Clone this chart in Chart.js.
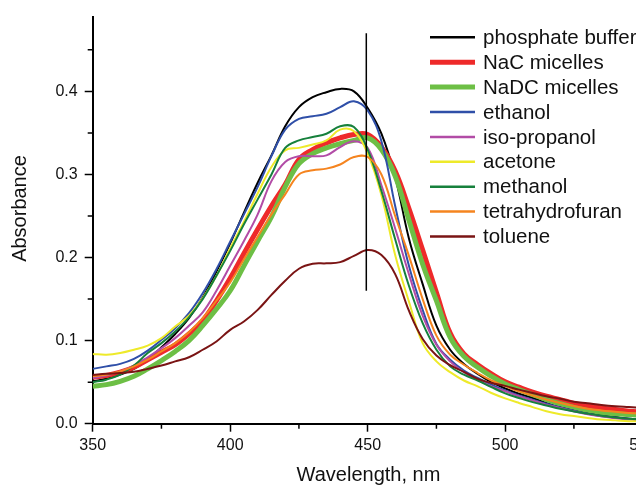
<!DOCTYPE html>
<html><head><meta charset="utf-8">
<script src="https://cdn.jsdelivr.net/npm/chart.js@4.4.1/dist/chart.umd.min.js"></script>
<style>
html,body{margin:0;padding:0;overflow:hidden;background:#fff;width:636px;height:486px}
canvas{display:block}
</style></head>
<body>
<canvas id="c" width="660" height="486" style="width:660px;height:486px"></canvas>
<script>
const wavelengths = [350,355,360,365,370,375,380,385,390,395,400,405,410,415,420,425,430,435,440,445,450,455,460,465,470,475,480,485,490,495,500,505,510,515,520,525,530,535,540,545,550];

const phosphateBuffer = [.051,.054,.059,.066,.077,.092,.108,.127,.152,.183,.217,.254,.290,.323,.358,.381,.393,.399,.403,.400,.380,.349,.297,.223,.168,.118,.089,.072,.060,.050,.0425,.036,.031,.025,.020,.0173,.0135,.010,.008,.006,.005];
const nacMicelles = [.056,.058,.062,.068,.077,.086,.095,.108,.124,.148,.175,.205,.234,.262,.288,.318,.330,.338,.344,.348,.348,.333,.304,.259,.209,.158,.109,.084,.071,.060,.0504,.044,.038,.033,.029,.0245,.0215,.019,.017,.015,.014];
const nadcMicelles = [.045,.047,.051,.057,.066,.076,.087,.100,.118,.138,.160,.190,.220,.249,.285,.313,.325,.332,.337,.341,.344,.330,.298,.245,.192,.148,.104,.081,.068,.057,.0477,.041,.035,.029,.024,.0197,.016,.0135,.012,.011,.010];
const ethanol = [.066,.069,.072,.078,.088,.101,.115,.133,.157,.186,.219,.252,.285,.322,.354,.367,.370,.373,.381,.388,.377,.340,.262,.190,.137,.096,.077,.064,.055,.047,.040,.034,.029,.024,.0195,.0156,.012,.009,.0075,.006,.005];
const isoPropanol = [.055,.058,.063,.070,.080,.091,.103,.118,.134,.160,.190,.220,.252,.292,.315,.322,.322,.323,.333,.340,.332,.287,.235,.180,.130,.095,.075,.062,.053,.045,.039,.033,.028,.023,.019,.015,.0115,.009,.0065,.005,.004];
const acetone = [.084,.083,.085,.089,.094,.103,.117,.130,.151,.178,.211,.243,.277,.309,.329,.332,.336,.341,.354,.352,.325,.275,.203,.147,.097,.075,.062,.052,.045,.037,.0305,.025,.020,.015,.0115,.0092,.007,.005,.004,.003,.003];
const methanol = [.050,.053,.059,.070,.085,.097,.111,.128,.150,.178,.208,.240,.270,.300,.332,.341,.345,.349,.358,.357,.330,.280,.222,.166,.121,.089,.069,.059,.052,.044,.0365,.031,.026,.022,.018,.0148,.012,.0095,.0075,.006,.005];
const tetrahydrofuran = [.057,.059,.063,.069,.077,.087,.097,.110,.127,.148,.170,.198,.225,.252,.276,.300,.305,.307,.312,.321,.321,.300,.250,.202,.150,.106,.083,.071,.061,.052,.0453,.039,.034,.029,.025,.0212,.018,.016,.0145,.013,.012];
const toluene = [.0585,.060,.061,.0625,.066,.070,.075,.080,.089,.099,.113,.123,.137,.155,.172,.1865,.1925,.193,.1945,.202,.209,.203,.180,.136,.102,.082,.0705,.0624,.054,.049,.0455,.041,.037,.033,.030,.0264,.0245,.0225,.021,.020,.019];

const seriesNames = ["phosphate buffer","NaC micelles","NaDC micelles","ethanol","iso-propanol","acetone","methanol","tetrahydrofuran","toluene"];
const seriesValues = [phosphateBuffer,nacMicelles,nadcMicelles,ethanol,isoPropanol,acetone,methanol,tetrahydrofuran,toluene];
const seriesColors = ["#000000","#ee2a2a","#6dbf45","#2f4fa8","#b24ca6","#eeea2a","#16803c","#f5841f","#7a1414"];
const seriesWidths = [2,5,5,2,2,2,2,2,2];

const xTickValues = [350,400,450,500,550];
const xMinorTicks = [375,425,475,525];
const yTickValues = [0.0,0.1,0.2,0.3,0.4];
const yMinorTicks = [0.05,0.15,0.25,0.35,0.45];
const markerX = 449.5;
const markerY = [0.16, 0.47];

const FONT = '"Liberation Sans", Arial, Helvetica, sans-serif';

const datasets = seriesNames.map((name,i)=>({
  label:name,
  data: wavelengths.map((w,j)=>({x:w,y:seriesValues[i][j]})),
  borderColor:seriesColors[i],
  borderWidth:seriesWidths[i],
  pointRadius:0,
  fill:false,
  tension:0.4,
  order: 20 - i
}));
datasets.push({
  label:'marker',
  data: markerY.map(v=>({x:markerX,y:v})),
  borderColor:'#000',
  borderWidth:1.5,
  pointRadius:0,
  fill:false,
  order:0
});

const extras = {
  id:'extras',
  afterDraw(chart){
    const ctx = chart.ctx;
    const xs = chart.scales.x, ys = chart.scales.y;
    const area = chart.chartArea;
    ctx.save();
    ctx.strokeStyle = '#000';
    ctx.lineWidth = 1.5;
    ctx.beginPath();
    yMinorTicks.forEach(v=>{
      const y = ys.getPixelForValue(v);
      ctx.moveTo(area.left-5, y); ctx.lineTo(area.left, y);
    });
    xMinorTicks.forEach(v=>{
      const x = xs.getPixelForValue(v);
      ctx.moveTo(x, area.bottom); ctx.lineTo(x, area.bottom+5);
    });
    ctx.stroke();

    // legend
    const lx0 = 430, lx1 = 475, tx = 483, ty0 = 37.3, dy = 24.9;
    ctx.font = '20.5px ' + FONT;
    ctx.textAlign = 'left';
    ctx.textBaseline = 'middle';
    seriesNames.forEach((name,i)=>{
      const y = ty0 + i*dy;
      ctx.strokeStyle = seriesColors[i];
      ctx.lineWidth = seriesWidths[i] === 2 ? 2.5 : 5;
      ctx.beginPath(); ctx.moveTo(lx0,y); ctx.lineTo(lx1,y); ctx.stroke();
      ctx.fillStyle = '#111';
      ctx.fillText(name, tx, y+1);
    });

    // axis titles
    ctx.fillStyle = '#111';
    ctx.font = '20px ' + FONT;
    ctx.textAlign = 'center';
    ctx.textBaseline = 'middle';
    ctx.fillText('Wavelength, nm', 368.5, 475);
    ctx.translate(20, 208.5);
    ctx.rotate(-Math.PI/2);
    ctx.fillText('Absorbance', 0, 0);
    ctx.restore();
  }
};

new Chart(document.getElementById('c'), {
  type:'line',
  data:{datasets},
  options:{
    responsive:false,
    animation:false,
    devicePixelRatio:1,
    layout:{padding:{top:14.3,right:14,left:0,bottom:0}},
    plugins:{legend:{display:false},tooltip:{enabled:false}},
    scales:{
      x:{
        type:'linear', min:350, max:550,
        afterFit(s){ s.height = 62.3; },
        afterBuildTicks(s){ s.ticks = xTickValues.map(v=>({value:v})); },
        grid:{display:true, drawOnChartArea:false, drawTicks:true, tickLength:8, tickColor:'#000', tickWidth:1.5},
        border:{display:true, color:'#000', width:2},
        ticks:{color:'#111', font:{family:FONT, size:16}, padding:4, maxRotation:0, autoSkip:false,
          callback:v=>String(v)}
      },
      y:{
        type:'linear', min:0, max:0.49,
        afterFit(s){ s.width = 92.7; },
        afterBuildTicks(s){ s.ticks = yTickValues.map(v=>({value:v})); },
        grid:{display:true, drawOnChartArea:false, drawTicks:true, tickLength:8, tickColor:'#000', tickWidth:1.5},
        border:{display:true, color:'#000', width:2},
        ticks:{color:'#111', font:{family:FONT, size:16}, padding:7, autoSkip:false,
          callback:v=>Number(v).toFixed(1)}
      }
    }
  },
  plugins:[extras]
});
</script>
</body></html>
